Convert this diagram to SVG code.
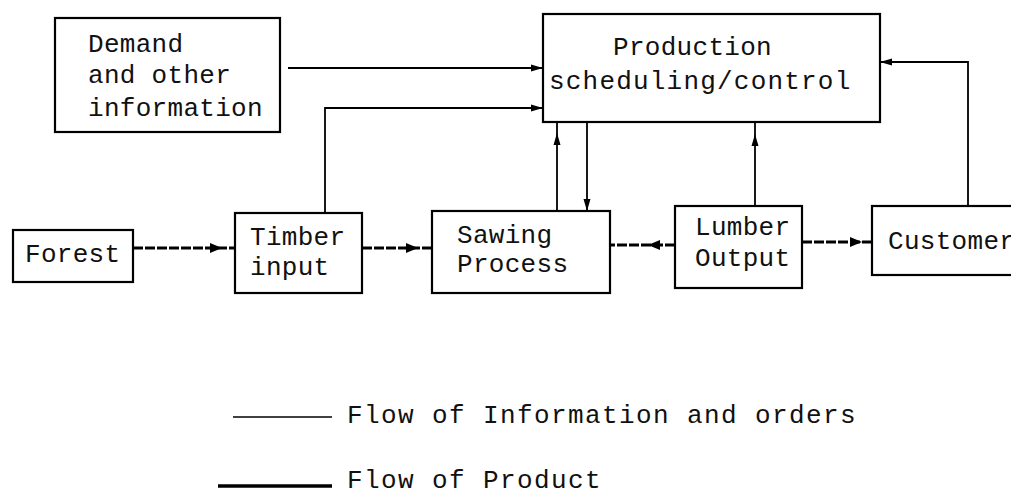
<svg xmlns="http://www.w3.org/2000/svg" width="1011" height="494" viewBox="0 0 1011 494">
<style>
.box{fill:#fff;stroke:#000;stroke-width:2.2}
.t{font-family:"Liberation Mono","DejaVu Sans Mono",monospace;font-size:26px;fill:#111;letter-spacing:0.3px}
.wide{letter-spacing:1.2px}
.leg{letter-spacing:1.4px}
.info{fill:none;stroke:#000;stroke-width:1.8}
.prod{fill:none;stroke:#000;stroke-width:3;stroke-dasharray:10 2}
</style>
<defs>
<marker id="ai" markerUnits="userSpaceOnUse" markerWidth="14" markerHeight="10" refX="12" refY="5" orient="auto">
<path d="M0,1.5 L12,5 L0,8.5 Z" fill="#000"/>
</marker>
<marker id="ap" markerUnits="userSpaceOnUse" markerWidth="14" markerHeight="12" refX="12" refY="6" orient="auto">
<path d="M0,1 L12,6 L0,11 Z" fill="#000"/>
</marker>
</defs>
<rect width="1011" height="494" fill="#fff"/>
<g id="connectors">
<path class="info" d="M288,68 H543" marker-end="url(#ai)"/>
<path class="info" d="M325,213 V108 H543" marker-end="url(#ai)"/>
<path class="info" d="M557,211 V133 V122" marker-mid="url(#ai)"/>
<path class="info" d="M587,122 V211" marker-end="url(#ai)"/>
<path class="info" d="M755,206 V134 V122" marker-mid="url(#ai)"/>
<path class="info" d="M968,206 V62 H880" marker-end="url(#ai)"/>
<path class="prod" d="M133,248 H222 H235" marker-mid="url(#ap)"/>
<path class="prod" d="M362,248 H418 H432" marker-mid="url(#ap)"/>
<path class="prod" d="M675,245 H648 H610" marker-mid="url(#ap)"/>
<path class="prod" d="M802,242 H862 H872" marker-mid="url(#ap)"/>
</g>
<g id="demand">
<rect class="box" x="55" y="18" width="225" height="114"/>
<text class="t" x="88" y="52">Demand</text>
<text class="t" x="88" y="83">and other</text>
<text class="t" x="88" y="116">information</text>
</g>
<g id="production">
<rect class="box" x="543" y="14" width="337" height="108"/>
<text class="t" x="613" y="55">Production</text>
<text class="t wide" x="549" y="89">scheduling/control</text>
</g>
<g id="forest">
<rect class="box" x="13" y="230" width="120" height="52"/>
<text class="t" x="25" y="262">Forest</text>
</g>
<g id="timber">
<rect class="box" x="235" y="213" width="127" height="80"/>
<text class="t" x="250" y="245">Timber</text>
<text class="t" x="250" y="275">input</text>
</g>
<g id="sawing">
<rect class="box" x="432" y="211" width="178" height="82"/>
<text class="t" x="457" y="243">Sawing</text>
<text class="t" x="457" y="272">Process</text>
</g>
<g id="lumber">
<rect class="box" x="675" y="206" width="127" height="82"/>
<text class="t" x="695" y="235">Lumber</text>
<text class="t" x="695" y="266">Output</text>
</g>
<g id="customer">
<rect class="box" x="872" y="206" width="150" height="69"/>
<text class="t" x="888" y="249">Customer</text>
</g>
<g id="legend">
<line x1="233" y1="417" x2="332" y2="417" stroke="#000" stroke-width="1.6"/>
<text class="t leg" x="347" y="423">Flow of Information and orders</text>
<line x1="218" y1="486" x2="332" y2="486" stroke="#000" stroke-width="3.5"/>
<text class="t leg" x="347" y="488">Flow of Product</text>
</g>
</svg>
